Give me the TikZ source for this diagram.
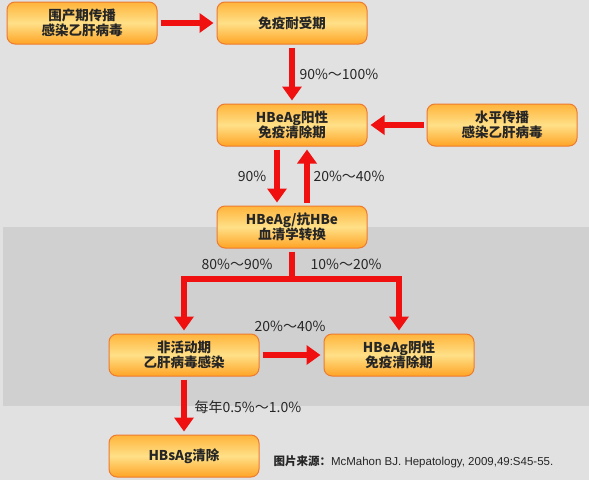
\documentclass[tikz,border=0pt]{standalone}
\usepackage{fontspec}
\newfontfamily\cjk{Noto Sans CJK SC}
\newfontfamily\arial{Liberation Sans}
\usetikzlibrary{arrows.meta}

\definecolor{bggray}{HTML}{E1E1E1}
\definecolor{bandgray}{HTML}{D0D0D0}
\definecolor{boxtop}{HTML}{FFB43A}
\definecolor{boxmid}{HTML}{FFE088}
\definecolor{boxbot}{HTML}{FFA424}
\definecolor{boxline}{HTML}{EE7A2E}
\definecolor{arrowred}{HTML}{F01010}

\begin{document}
\begin{tikzpicture}[x=1pt,y=-1pt,
    phase/.style={rounded corners=8pt, draw=boxline, line width=1pt,
        top color=boxtop, bottom color=boxbot, middle color=boxmid,
        minimum width=150pt, minimum height=42pt, align=center,
        font=\cjk\bfseries\fontsize{13.5}{15}\selectfont, text=black!85},
    flow/.style={draw=arrowred, line width=6pt,
        -{Triangle[width=19pt,length=14pt]}, shorten >=3pt, shorten <=3pt},
    rate/.style={font=\cjk\fontsize{14}{16}\selectfont, text=black!85}]
    \useasboundingbox (0,0) rectangle (589,480);
    \fill[bggray] (0,0) rectangle (589,480);
    \fill[bandgray] (3,227) rectangle (589,406);

    \node[phase] (perinatal) at (82,23) {围产期传播\\感染乙肝病毒};
    \node[phase] (tolerance) at (292,23) {免疫耐受期};
    \node[phase] (eplus) at (292,125) {HBeAg阳性\\免疫清除期};
    \node[phase] (horizontal) at (502,125) {水平传播\\感染乙肝病毒};
    \node[phase] (seroconv) at (292,227) {HBeAg/抗HBe\\血清学转换};
    \node[phase] (inactive) at (184,355) {非活动期\\乙肝病毒感染};
    \node[phase] (eneg) at (399,355) {HBeAg阴性\\免疫清除期};
    \node[phase] (hbsag) at (184,456) {HBsAg清除};

    \draw[flow] (perinatal) -- (tolerance);
    \draw[flow] (tolerance) -- (eplus);
    \draw[flow] (horizontal) -- (eplus);
    \draw[flow] ([xshift=-15pt]eplus.south) -- ([xshift=-15pt]seroconv.north);
    \draw[flow] ([xshift=15pt]seroconv.north) -- ([xshift=15pt]eplus.south);
    \draw[draw=arrowred, line width=6pt, shorten <=3pt] (seroconv.south) -- ++(0,30) coordinate (split);
    \draw[flow, shorten <=0pt] ([xshift=3pt]split) -| (inactive.north);
    \draw[flow, shorten <=0pt] ([xshift=-3pt]split) -| (eneg.north);
    \draw[flow] (inactive) -- (eneg);
    \draw[flow] (inactive) -- (hbsag);

    \node[rate, anchor=west] (r1) at (296,74) {90\%～100\%};
    \node[rate] (r2) at (252,176) {90\%};
    \node[rate, anchor=west] (r3) at (310,176) {20\%～40\%};
    \node[rate] (r4) at (237,264) {80\%～90\%};
    \node[rate] (r5) at (346,264) {10\%～20\%};
    \node[rate] (r6) at (290,326) {20\%～40\%};
    \node[rate, anchor=west] (r7) at (191,407) {每年0.5\%～1.0\%};

    \node[anchor=west, text=black!85] (source) at (270,462)
        {\cjk\bfseries\fontsize{11.5}{13}\selectfont 图片来源：\arial\mdseries McMahon BJ. Hepatology, 2009,49:S45-55.};
\end{tikzpicture}
\end{document}
